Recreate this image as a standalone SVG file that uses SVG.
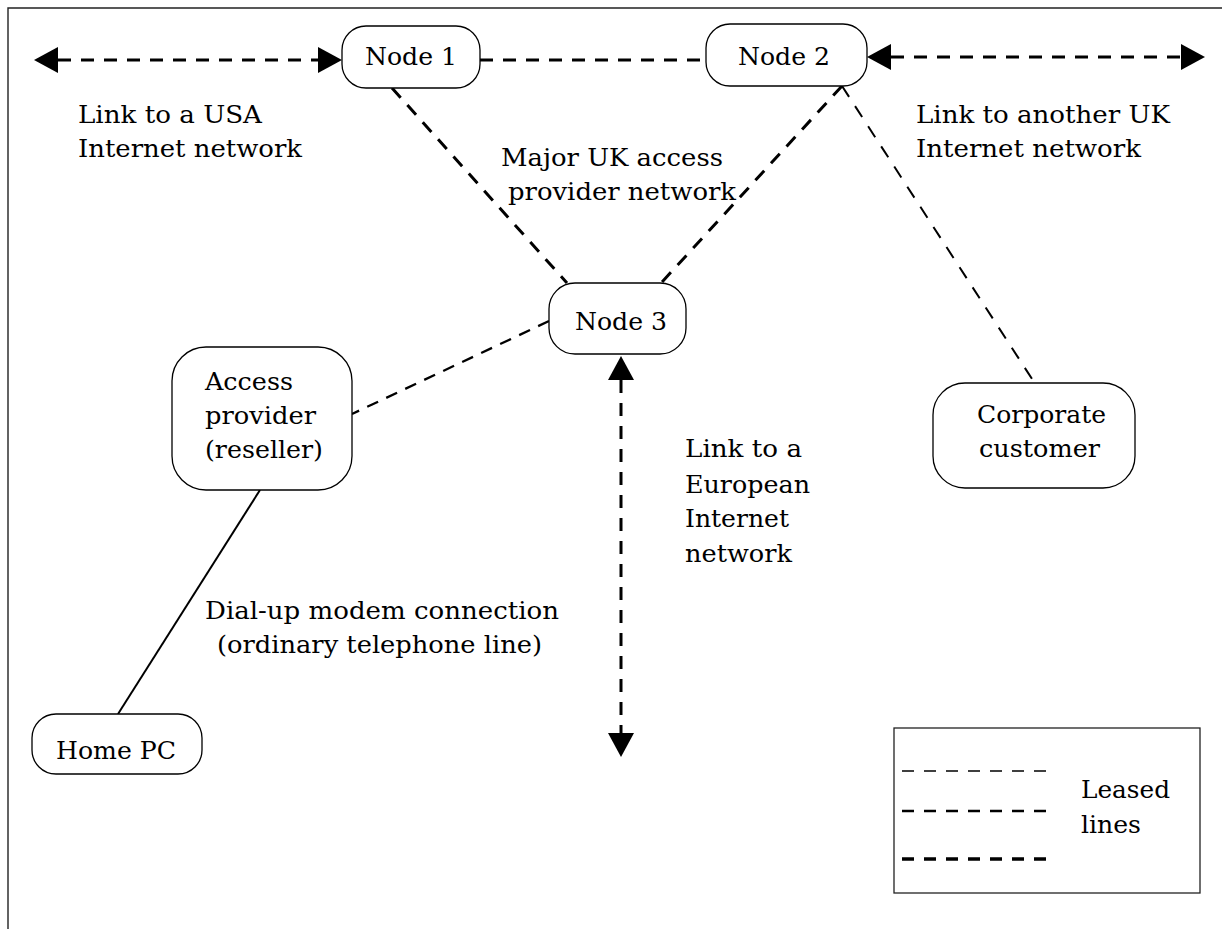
<svg xmlns="http://www.w3.org/2000/svg" width="1222" height="929" viewBox="0 0 1222 929">
<defs>
<style>
text{font-family:"DejaVu Serif","Liberation Serif",serif;font-size:25px;fill:#000}
.box{fill:#fff;stroke:#000;stroke-width:1.3}
.thick{stroke:#000;stroke-width:3;stroke-dasharray:13 10;fill:none}
.med{stroke:#000;stroke-width:2.3;stroke-dasharray:12 9;fill:none}
.thin{stroke:#000;stroke-width:2;stroke-dasharray:13 11;fill:none}
.solid{stroke:#000;stroke-width:2;fill:none}
</style>
<marker id="arr" viewBox="0 0 24 26" refX="0" refY="13" markerWidth="24" markerHeight="26" markerUnits="userSpaceOnUse" orient="auto-start-reverse">
<path d="M0,0 L24,13 L0,26 Z" fill="#000"/>
</marker>
</defs>
<rect width="1222" height="929" fill="#fff"/>
<g id="frame">
<path d="M8,929 L8,8 L1222,8" fill="none" stroke="#222" stroke-width="1.4"/>
</g>
<g id="connectors">
<line class="thick" x1="58" y1="60" x2="318" y2="60" marker-start="url(#arr)" marker-end="url(#arr)"/>
<line class="thick" x1="480" y1="60" x2="706" y2="60"/>
<line class="thick" x1="891" y1="57" x2="1181" y2="57" marker-start="url(#arr)" marker-end="url(#arr)"/>
<line class="thick" x1="392" y1="88" x2="567" y2="283"/>
<line class="thick" x1="842" y1="86" x2="662" y2="282"/>
<line class="thin" x1="842" y1="86" x2="1034" y2="382"/>
<line class="med" x1="549" y1="321" x2="352" y2="414"/>
<line class="thick" x1="621" y1="380" x2="621" y2="733" marker-start="url(#arr)" marker-end="url(#arr)"/>
<line class="solid" x1="260" y1="490" x2="118" y2="714"/>
</g>
<g id="node1">
<rect class="box" x="342" y="26" width="138" height="62" rx="24"/>
<text x="365" y="65" textLength="92" lengthAdjust="spacingAndGlyphs">Node 1</text>
</g>
<g id="node2">
<rect class="box" x="706" y="24" width="161" height="62" rx="24"/>
<text x="738" y="65" textLength="92" lengthAdjust="spacingAndGlyphs">Node 2</text>
</g>
<g id="node3">
<rect class="box" x="549" y="283" width="137" height="71" rx="26"/>
<text x="575" y="330" textLength="92" lengthAdjust="spacingAndGlyphs">Node 3</text>
</g>
<g id="access-provider">
<rect class="box" x="172" y="347" width="180" height="143" rx="34"/>
<text x="205" y="390" textLength="88" lengthAdjust="spacingAndGlyphs">Access</text>
<text x="205" y="424" textLength="111" lengthAdjust="spacingAndGlyphs">provider</text>
<text x="205" y="458" textLength="118" lengthAdjust="spacingAndGlyphs">(reseller)</text>
</g>
<g id="corporate-customer">
<rect class="box" x="933" y="383" width="202" height="105" rx="32"/>
<text x="977" y="423" textLength="129" lengthAdjust="spacingAndGlyphs">Corporate</text>
<text x="979" y="457" textLength="121" lengthAdjust="spacingAndGlyphs">customer</text>
</g>
<g id="home-pc">
<rect class="box" x="32" y="714" width="170" height="60" rx="24"/>
<text x="56" y="759" textLength="120" lengthAdjust="spacingAndGlyphs">Home PC</text>
</g>
<g id="labels">
<text x="78" y="123" textLength="184" lengthAdjust="spacingAndGlyphs">Link to a USA</text>
<text x="78" y="157" textLength="224" lengthAdjust="spacingAndGlyphs">Internet network</text>
<text x="916" y="123" textLength="254" lengthAdjust="spacingAndGlyphs">Link to another UK</text>
<text x="916" y="157" textLength="225" lengthAdjust="spacingAndGlyphs">Internet network</text>
<text x="501" y="166" textLength="222" lengthAdjust="spacingAndGlyphs">Major UK access</text>
<text x="508" y="200" textLength="228" lengthAdjust="spacingAndGlyphs">provider network</text>
<text x="685" y="457" textLength="117" lengthAdjust="spacingAndGlyphs">Link to a</text>
<text x="685" y="493" textLength="125" lengthAdjust="spacingAndGlyphs">European</text>
<text x="685" y="527" textLength="104" lengthAdjust="spacingAndGlyphs">Internet</text>
<text x="685" y="562" textLength="107" lengthAdjust="spacingAndGlyphs">network</text>
<text x="205" y="619" textLength="354" lengthAdjust="spacingAndGlyphs">Dial-up modem connection</text>
<text x="217" y="653" textLength="325" lengthAdjust="spacingAndGlyphs">(ordinary telephone line)</text>
</g>
<g id="legend">
<rect x="894" y="728" width="306" height="165" fill="#fff" stroke="#222" stroke-width="1.3"/>
<line x1="902" y1="771" x2="1050" y2="771" stroke="#000" stroke-width="1.3" stroke-dasharray="12 10"/>
<line x1="902" y1="811" x2="1050" y2="811" stroke="#000" stroke-width="2.4" stroke-dasharray="12 10"/>
<line x1="902" y1="859" x2="1050" y2="859" stroke="#000" stroke-width="3.4" stroke-dasharray="12 10"/>
<text x="1081" y="798" textLength="89" lengthAdjust="spacingAndGlyphs">Leased</text>
<text x="1081" y="833" textLength="60" lengthAdjust="spacingAndGlyphs">lines</text>
</g>
</svg>
